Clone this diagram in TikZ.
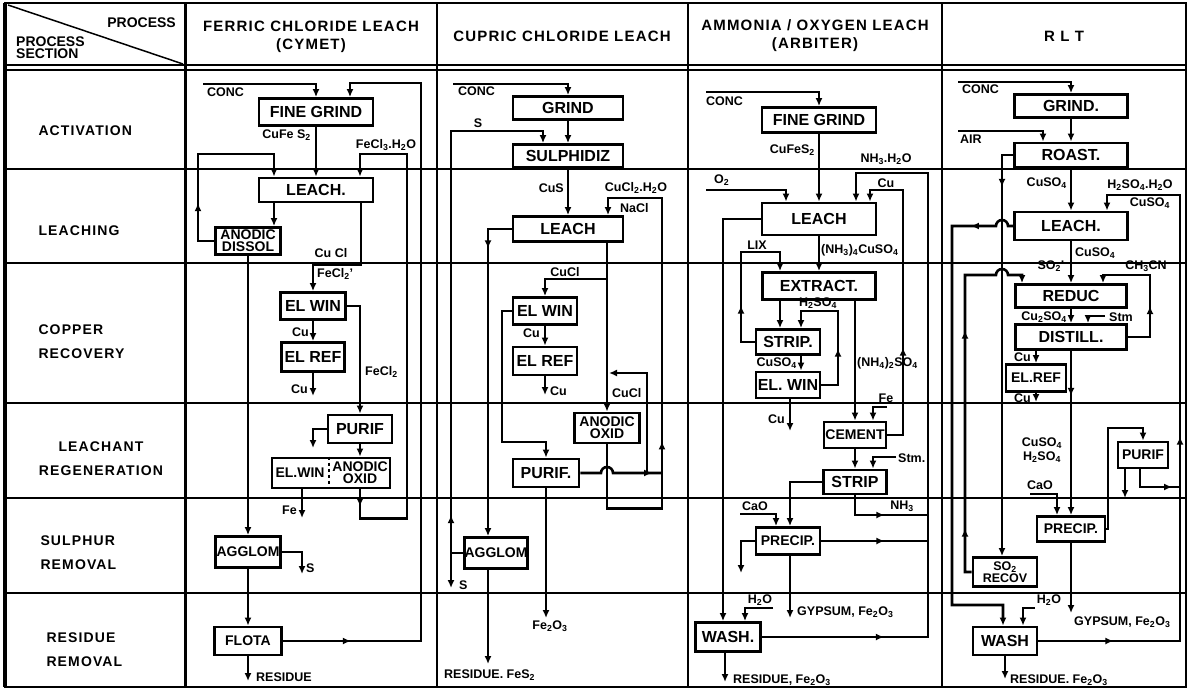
\documentclass[tikz,border=0pt]{standalone}
\usepackage{fontspec}
\setmainfont{Liberation Sans}
\newfontfamily\widefont[LetterSpace=8]{Liberation Sans}
\usetikzlibrary{arrows.meta, decorations.markings, positioning}
\newcommand{\ssub}[1]{\textsubscript{#1}}

\tikzset{
	btxt/.style={inner sep=0pt, align=center, font=\fontsize{14}{12}\selectfont\bfseries},
	box/.style={draw, line width=2.8pt, fill=white, inner sep=0pt, align=center, font=\fontsize{16}{16}\selectfont\bfseries},
	tbox/.style={box, font=\fontsize{14}{12}\selectfont\bfseries},
	pipe/.style={line width=2.6pt},
	flow/.style={pipe, -{Latex[length=8pt,width=7pt]}},
	mid/.style={postaction={decorate, decoration={markings, mark=at position #1 with {\arrow{Latex[length=8pt,width=7pt]}}}}},
	lbl/.style={inner sep=0pt, align=center, font=\fontsize{12.5}{14}\selectfont\bfseries},
	head/.style={align=center, font=\widefont\fontsize{15}{18}\selectfont\bfseries},
	sect/.style={align=left, font=\widefont\fontsize{14}{24}\selectfont\bfseries},
	tabline/.style={line width=1.8pt},
}

\begin{document}
\begin{tikzpicture}[x=1pt, y=-1pt]
		\useasboundingbox (0,0) rectangle (1188,690);
		% table
		\draw[line width=2.6pt] (5,3) rectangle (1186,687);
		\draw[line width=3.5pt] (5,3) -- (5,687);
		\foreach \y in {65,70,169,263,403,498,593} \draw[tabline] (5,\y) -- (1186,\y);
		\draw[line width=3pt] (185,3) -- (185,687);
		\foreach \x in {437,688,942} \draw[tabline] (\x,3) -- (\x,687);
		\draw[line width=1.5pt] (8,5) -- (183,64);
		\node[lbl, font=\fontsize{14}{12}\selectfont\bfseries, anchor=east] (hproc) at (176,23) {PROCESS};
		\node[lbl, font=\fontsize{14}{12}\selectfont\bfseries, align=left, anchor=west] (hsect) at (16,48) {PROCESS\\SECTION};
		\node[head] (hcymet) at (311,37) {FERRIC CHLORIDE LEACH\\(CYMET)};
		\node[head] (hcupric) at (562,36) {CUPRIC CHLORIDE LEACH};
		\node[head] (harbiter) at (815,36) {AMMONIA / OXYGEN LEACH\\(ARBITER)};
		\node[head] (hrlt) at (1064,36) {R L T};
		\node[sect, anchor=west] (sact) at (35,131) {ACTIVATION};
		\node[sect, anchor=west] (sleach) at (35,231) {LEACHING};
		\node[sect, anchor=west] (scopper) at (35,342) {COPPER\\RECOVERY};
		\node[sect, align=center] (sregen) at (101,459) {LEACHANT\\REGENERATION};
		\node[sect, anchor=west] (ssulph) at (37,553) {SULPHUR\\REMOVAL};
		\node[sect, anchor=west] (sres) at (43,650) {RESIDUE\\REMOVAL};

		% ferric chloride leach
		\node[box, minimum width=114, minimum height=27] (fineA) at (316,112) {FINE GRIND};
		\node[box, minimum width=114, minimum height=24] (leachA) at (316,190) {LEACH.};
		\node[tbox, minimum width=65, minimum height=27] (dissolA) at (248,241) {ANODIC\\DISSOL};
		\node[box, minimum width=65, minimum height=27] (elwinA) at (313,306) {EL WIN};
		\node[box, minimum width=63, minimum height=29] (elrefA) at (313,357) {EL REF};
		\node[box, minimum width=64, minimum height=28] (purifA) at (360,429) {PURIF};
		\node[box, minimum width=118, minimum height=30] (regenA) at (331,473) {};
		\node[btxt] (elwinT) at (300,473) {EL.WIN};
		\node[btxt] (oxidA) at (360,473) {ANODIC\\OXID};
		\draw[dashed, line width=1.2pt] ([xshift=-2pt]regenA.north) -- ([xshift=-2pt]regenA.south);
		\node[tbox, minimum width=65, minimum height=31] (agglomA) at (248,552) {AGGLOM};
		\node[tbox, minimum width=67, minimum height=28] (flotaA) at (248,641) {FLOTA};

		\coordinate (concA) at (203,84);
		\draw[flow] (concA) -| (fineA.north);
		\node[lbl, anchor=north west] (lconcA) at (207,88) {CONC};
		\draw[flow, mid=68pt] (flotaA.east) -| (421,83) -| ([xshift=34pt]fineA.north);
		\draw[flow] (fineA.south) -- (leachA.north);
		\node[lbl, anchor=east] (lcufeA) at (311,135) {CuFe S\ssub{2}};
		\draw[flow, mid=17pt] ([xshift=29pt]regenA.south) -- ++(0,29) -| (407,154) -| ([xshift=44pt]leachA.north);
		\node[lbl] (lfeclA) at (386,145) {FeCl\ssub{3}.H\ssub{2}O};
		\draw[flow, mid=54pt] (dissolA.west) -| (198,154) -| ([xshift=-42pt]leachA.north);
		\draw[flow] ([xshift=-42pt]leachA.south) -- ([xshift=26pt]dissolA.north);
		\draw[flow] (dissolA.south) -- (agglomA.north);
		\draw[flow] ([xshift=45pt]leachA.south) -- ++(0,61) -| (elwinA.north);
		\node[lbl] (lcuclA) at (331,253) {Cu Cl};
		\node[lbl, anchor=west] (lfecl2A) at (317,274) {FeCl\ssub{2}'};
		\draw[flow] (elwinA.east) -| (purifA.north);
		\node[lbl, anchor=west] (lfecl2B) at (365,372) {FeCl\ssub{2}};
		\draw[flow] (elwinA.south) -- (elrefA.north);
		\node[lbl, anchor=east] (lcu1A) at (309,332) {Cu};
		\coordinate (cuA) at (313,396);
		\draw[flow] (elrefA.south) -- (cuA);
		\node[lbl, anchor=east] (lcu2A) at (308,389) {Cu};
		\coordinate (bleedA) at (313,448);
		\draw[flow] (purifA.west) -| (bleedA);
		\draw[flow] (purifA.south) -- ([xshift=29pt]regenA.north);
		\coordinate (feA) at (302,518);
		\draw[flow] ([xshift=-29pt]regenA.south) -- (feA);
		\node[lbl, anchor=east] (lfeA) at (297,510) {Fe};
		\coordinate (sA) at (302,574);
		\draw[flow] (agglomA.east) -| (sA);
		\node[lbl, anchor=west] (lsA) at (306,568) {S};
		\draw[flow] (agglomA.south) -- (flotaA.north);
		\coordinate (resA) at (248,681);
		\draw[flow] (flotaA.south) -- (resA);
		\node[lbl, anchor=west] (lresA) at (256,677) {RESIDUE};

		% cupric chloride leach
		\node[box, minimum width=110, minimum height=23] (grindB) at (568,108) {GRIND};
		\node[box, minimum width=110, minimum height=23] (sulphB) at (568,156) {SULPHIDIZ};
		\node[box, minimum width=110, minimum height=25] (leachB) at (568,229) {LEACH};
		\node[box, minimum width=64, minimum height=27] (elwinB) at (545,311) {EL WIN};
		\node[box, minimum width=64, minimum height=28] (elrefB) at (545,361) {EL REF};
		\node[tbox, minimum width=65, minimum height=30] (oxidB) at (607,428) {ANODIC\\OXID};
		\node[box, minimum width=66, minimum height=28] (purifB) at (546,473) {PURIF.};
		\node[tbox, minimum width=63, minimum height=31] (agglomB) at (496,553) {AGGLOM};

		\coordinate (concB) at (453,84);
		\draw[flow] (concB) -| (grindB.north);
		\node[lbl, anchor=north west] (lconcB) at (458,87) {CONC};
		\draw[flow] (grindB.south) -- (sulphB.north);
		\draw[flow, mid=50pt] (agglomB.west) -| (451,131) -| ([xshift=-25pt]sulphB.north);
		\coordinate (sB) at (451,588);
		\draw[flow] (agglomB.west) -| (sB);
		\node[lbl] (ls1B) at (478,123) {S};
		\node[lbl, anchor=west] (ls2B) at (459,585) {S};
		\draw[flow] (sulphB.south) -- (leachB.north);
		\node[lbl, anchor=east] (lcusB) at (564,188) {CuS};
		\draw[flow, mid=186pt] (oxidB.south) -- ++(0,64) -| (662,198) -| ([xshift=40pt]leachB.north);
		\node[lbl] (lcucl2B) at (636,188) {CuCl\ssub{2}.H\ssub{2}O};
		\node[lbl, anchor=west] (lnaclB) at (620,208) {NaCl};
		\draw[flow] ([xshift=39pt]leachB.south) -- (oxidB.north);
		\coordinate (tapB) at (607,279);
		\draw[flow] (tapB) -| (elwinB.north);
		\node[lbl] (lcucl1B) at (565,272) {CuCl};
		\node[lbl, anchor=west] (lcucl3B) at (612,393) {CuCl};
		\draw[flow] (elwinB.south) -- (elrefB.north);
		\node[lbl, anchor=east] (lcu1B) at (540,333) {Cu};
		\coordinate (cuB) at (545,395);
		\draw[flow] (elrefB.south) -- (cuB);
		\node[lbl, anchor=west] (lcu2B) at (550,391) {Cu};
		\draw[flow] (elwinB.west) -| (502,442) -| (purifB.north);
		\coordinate (fe2o3B) at (546,618);
		\draw[flow] (purifB.south) -- (fe2o3B);
		\node[lbl, anchor=north] (lfe2o3B) at (550,621) {Fe\ssub{2}O\ssub{3}};
		\draw[pipe, mid=-10pt] (purifB.east) -- (601,473) arc[start angle=180, end angle=0, radius=6pt] -- (662,473);
		\coordinate (jB) at (647,473);
		\coordinate (cuclB) at (609,373);
		\draw[flow] (jB) |- (cuclB);
		\draw[flow, mid=43pt] (leachB.west) -| ([xshift=-8pt]agglomB.north);
		\coordinate (resB) at (488,664);
		\draw[flow] ([xshift=-8pt]agglomB.south) -- (resB);
		\node[lbl, anchor=west] (lresB) at (444,675) {RESIDUE. FeS\ssub{2}};

		% ammonia / oxygen leach
		\node[box, minimum width=114, minimum height=25] (fineC) at (819,120) {FINE GRIND};
		\node[box, minimum width=114, minimum height=32] (leachC) at (819,219) {LEACH};
		\node[box, minimum width=113, minimum height=27] (extractC) at (819,286) {EXTRACT.};
		\node[box, minimum width=64, minimum height=25] (stripC) at (788,342) {STRIP.};
		\node[box, minimum width=64, minimum height=26] (elwinC) at (788,385) {EL. WIN};
		\node[tbox, minimum width=62, minimum height=26] (cementC) at (855,435) {CEMENT};
		\node[box, minimum width=63, minimum height=24] (stripD) at (855,482) {STRIP};
		\node[tbox, minimum width=64, minimum height=27] (precipC) at (788,541) {PRECIP.};
		\node[box, minimum width=65, minimum height=29] (washC) at (728,637) {WASH.};

		\coordinate (concC) at (706,92);
		\draw[flow] (concC) -| (fineC.north);
		\node[lbl, anchor=north west] (lconcC) at (706,97) {CONC};
		\draw[flow] (fineC.south) -- (leachC.north);
		\node[lbl, anchor=east] (lcufeC) at (815,150) {CuFeS\ssub{2}};
		\coordinate (o2C) at (706,190);
		\draw[flow] (o2C) -| ([xshift=-33pt]leachC.north);
		\node[lbl, anchor=south west] (lo2C) at (714,186) {O\ssub{2}};
		\draw[flow, mid=122pt] (washC.east) -| (928,173) -| ([xshift=37pt]leachC.north);
		\node[lbl] (lnh3C) at (886,159) {NH\ssub{3}.H\ssub{2}O};
		\coordinate (nh3C) at (928,515);
		\draw[pipe, mid=49pt] (stripD.south) |- (nh3C);
		\node[lbl] (lnh3bC) at (902,506) {NH\ssub{3}};
		\coordinate (retC) at (928,541);
		\draw[pipe, mid=63pt] (precipC.east) -- (retC);
		\draw[flow, mid=103pt] (cementC.east) -| (903,190) -| ([xshift=51pt]leachC.north);
		\node[lbl] (lcuC) at (886,183) {Cu};
		\draw[flow] (leachC.west) -| ([xshift=-5pt]washC.north);
		\draw[flow] (leachC.south) -- (extractC.north);
		\node[lbl, anchor=west] (lnh34C) at (821,250) {(NH\ssub{3})\ssub{4}CuSO\ssub{4}};
		\draw[flow, mid=50pt] (stripC.west) -| (741,252) -| ([xshift=-39pt]extractC.north);
		\node[lbl] (llixC) at (757,245) {LIX};
		\draw[flow] ([xshift=-39pt]extractC.south) -- ([xshift=-8pt]stripC.north);
		\draw[flow, mid=53pt] (elwinC.east) -| (838,311) -| ([xshift=13pt]stripC.north);
		\node[lbl] (lh2so4C) at (818,303) {H\ssub{2}SO\ssub{4}};
		\draw[flow] ([xshift=13pt]stripC.south) -- ([xshift=13pt]elwinC.north);
		\node[lbl, anchor=east] (lcuso4C) at (797,363) {CuSO\ssub{4}};
		\draw[flow] ([xshift=36pt]extractC.south) -- (cementC.north);
		\node[lbl, anchor=west] (lnh42C) at (857,363) {(NH\ssub{4})\ssub{2}SO\ssub{4}};
		\coordinate (cuC) at (790,431);
		\draw[flow] ([xshift=2pt]elwinC.south) -- (cuC);
		\node[lbl, anchor=east] (lcu2C) at (785,419) {Cu};
		\coordinate (feC) at (887,407);
		\draw[flow] (feC) -| ([xshift=18pt]cementC.north);
		\node[lbl] (lfeC) at (886,398) {Fe};
		\draw[flow] (cementC.south) -- (stripD.north);
		\coordinate (stmC) at (896,457);
		\draw[flow] (stmC) -| ([xshift=18pt]stripD.north);
		\node[lbl, anchor=west] (lstmC) at (898,458) {Stm.};
		\draw[flow] (stripD.west) -| ([xshift=2pt]precipC.north);
		\coordinate (caoC) at (740,514);
		\draw[flow] (caoC) -| ([xshift=-12pt]precipC.north);
		\node[lbl] (lcaoC) at (755,506) {CaO};
		\coordinate (bleedC) at (741,573);
		\draw[flow] (precipC.west) -| (bleedC);
		\coordinate (gypC) at (790,618);
		\draw[flow] ([xshift=2pt]precipC.south) -- (gypC);
		\node[lbl, anchor=west] (lgypC) at (797,612) {GYPSUM, Fe\ssub{2}O\ssub{3}};
		\coordinate (h2oC) at (773,608);
		\draw[flow] (h2oC) -| ([xshift=17pt]washC.north);
		\node[lbl] (lh2oC) at (760,600) {H\ssub{2}O};
		\coordinate (resC) at (725,682);
		\draw[flow] ([xshift=-3pt]washC.south) -- (resC);
		\node[lbl, anchor=west] (lresC) at (733,680) {RESIDUE, Fe\ssub{2}O\ssub{3}};

		% rlt
		\node[box, minimum width=113, minimum height=23] (grindR) at (1071,106) {GRIND.};
		\node[box, minimum width=113, minimum height=24] (roastR) at (1071,155) {ROAST.};
		\node[box, minimum width=113, minimum height=28] (leachR) at (1071,226) {LEACH.};
		\node[box, minimum width=111, minimum height=23] (reducR) at (1071,296) {REDUC};
		\node[box, minimum width=111, minimum height=25] (distilR) at (1071,337) {DISTILL.};
		\node[tbox, minimum width=60, minimum height=27] (elrefR) at (1036,378) {EL.REF};
		\node[tbox, minimum width=50, minimum height=26] (purifR) at (1143,455) {PURIF};
		\node[tbox, minimum width=68, minimum height=25] (precipR) at (1071,529) {PRECIP.};
		\node[tbox, font=\fontsize{12.5}{12.5}\selectfont\bfseries, minimum width=64, minimum height=29] (so2R) at (1005,572) {SO\ssub{2}\\RECOV};
		\node[box, minimum width=64, minimum height=28] (washR) at (1005,641) {WASH};

		\coordinate (concR) at (958,82);
		\draw[flow] (concR) -| (grindR.north);
		\node[lbl, anchor=north west] (lconcR) at (962,85) {CONC};
		\draw[flow] (grindR.south) -- (roastR.north);
		\coordinate (airR) at (958,131);
		\draw[flow] (airR) -| ([xshift=-28pt]roastR.north);
		\node[lbl, anchor=north west] (lairR) at (960,135) {AIR};
		\draw[flow, mid=43pt] (roastR.west) -| ([xshift=-3pt]so2R.north);
		\draw[flow] (roastR.south) -- (leachR.north);
		\node[lbl, anchor=east] (lcuso4R) at (1067,183) {CuSO\ssub{4}};
		\draw[flow, mid=75pt, mid=346pt] (washR.east) -| (1180,195) -| ([xshift=36pt]leachR.north);
		\node[lbl] (lh2so4R) at (1140,185) {H\ssub{2}SO\ssub{4}.H\ssub{2}O};
		\node[lbl] (lcuso4bR) at (1150,203) {CuSO\ssub{4}};
		\draw[flow, mid=49pt] (leachR.west) -- (1008,226) arc[start angle=0, end angle=180, radius=6pt] -- (952,226) |- (1003,605) -- ([xshift=-2pt]washR.north);
		\draw[flow] (leachR.south) -- (reducR.north);
		\node[lbl, anchor=west] (lcuso4cR) at (1075,253) {CuSO\ssub{4}};
		\draw[flow, mid=50pt, mid=248pt] (so2R.west) -| (965,275) -- (996,275) arc[start angle=180, end angle=0, radius=6pt] -| ([xshift=-49pt]reducR.north);
		\node[lbl] (lso2R) at (1051,266) {SO\ssub{2}'};
		\draw[flow, mid=53pt] (distilR.east) -| (1150,275) -| ([xshift=32pt]reducR.north);
		\node[lbl] (lch3cnR) at (1146,266) {CH\ssub{3}CN};
		\draw[flow] (reducR.south) -- (distilR.north);
		\node[lbl, anchor=east] (lcu2so4R) at (1067,317) {Cu\ssub{2}SO\ssub{4}};
		\coordinate (stmR) at (1105,316);
		\draw[flow] (stmR) -| ([xshift=17pt]distilR.north);
		\node[lbl, anchor=west] (lstmR) at (1109,317) {Stm};
		\draw[flow] ([xshift=-35pt]distilR.south) -- (elrefR.north);
		\node[lbl, anchor=east] (lcu1R) at (1031,357) {Cu};
		\coordinate (cuR) at (1036,402);
		\draw[flow] (elrefR.south) -- (cuR);
		\node[lbl, anchor=east] (lcu2R) at (1031,398) {Cu};
		\draw[flow, mid=45pt] (distilR.south) -- (precipR.north);
		\node[lbl] (lcuh2R) at (1042,450) {CuSO\ssub{4}\\H\ssub{2}SO\ssub{4}};
		\coordinate (caoR) at (1030,494);
		\draw[flow] (caoR) -| ([xshift=-14pt]precipR.north);
		\node[lbl] (lcaoR) at (1040,485) {CaO};
		\draw[flow] (precipR.east) -| (1108,428) -| (purifR.north);
		\coordinate (bleedR) at (1125,498);
		\draw[flow] ([xshift=-18pt]purifR.south) -- (bleedR);
		\coordinate (retR) at (1180,487);
		\draw[pipe, mid=-8pt] ([xshift=-3pt]purifR.south) |- (retR);
		\coordinate (gypR) at (1071,613);
		\draw[flow] (precipR.south) -- (gypR);
		\node[lbl, anchor=west] (lgypR) at (1074,622) {GYPSUM, Fe\ssub{2}O\ssub{3}};
		\coordinate (h2oR) at (1035,608);
		\draw[flow] (h2oR) -| ([xshift=18pt]washR.north);
		\node[lbl] (lh2oR) at (1049,600) {H\ssub{2}O};
		\coordinate (resR) at (1005,679);
		\draw[flow] (washR.south) -- (resR);
		\node[lbl, anchor=west] (lresR) at (1010,680) {RESIDUE. Fe\ssub{2}O\ssub{3}};
	\end{tikzpicture}
\end{document}
